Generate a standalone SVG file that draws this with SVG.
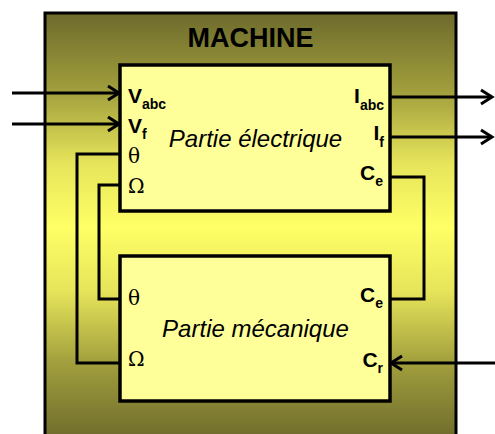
<svg xmlns="http://www.w3.org/2000/svg" width="495" height="434" viewBox="0 0 495 434">
<defs>
<linearGradient id="bg" x1="0" y1="0" x2="0" y2="1">
<stop offset="0" stop-color="#6d6a2c"/>
<stop offset="0.18" stop-color="#a09e3c"/>
<stop offset="0.35" stop-color="#e6e45a"/>
<stop offset="0.5" stop-color="#ffff66"/>
<stop offset="0.65" stop-color="#e6e45a"/>
<stop offset="0.82" stop-color="#a09e3c"/>
<stop offset="1" stop-color="#6d6a2c"/>
</linearGradient>
<marker id="ah" markerUnits="userSpaceOnUse" markerWidth="16" markerHeight="18" viewBox="0 0 16 18" refX="13" refY="9" orient="auto">
<path d="M2,2 L13,9 L2,16" fill="none" stroke="#000" stroke-width="3" stroke-linejoin="miter"/>
</marker>
<style>
.box{fill:#ffff99;stroke:#000;stroke-width:3.5}
.ln{fill:none;stroke:#000;stroke-width:3}
.b{font-family:"Liberation Sans",Arial,sans-serif;font-weight:bold;fill:#000}
.m{font-size:21px}
.s{font-size:14px}
.g{font-family:"DejaVu Serif","Liberation Serif",serif;font-size:20px;fill:#000}
.it{font-family:"Liberation Sans",Arial,sans-serif;font-style:italic;font-size:24px;fill:#000}
</style>
</defs>
<g id="machine">
<rect x="45" y="13" width="411" height="428" fill="url(#bg)" stroke="#000" stroke-width="3"/>
<text x="250.5" y="47" text-anchor="middle" class="b" font-size="27">MACHINE</text>
</g>
<g id="connectors">
<line class="ln" x1="12" y1="93" x2="119" y2="93" marker-end="url(#ah)"/>
<line class="ln" x1="12" y1="124" x2="119" y2="124" marker-end="url(#ah)"/>
<line class="ln" x1="390" y1="97" x2="492" y2="97" marker-end="url(#ah)"/>
<line class="ln" x1="390" y1="137" x2="492" y2="137" marker-end="url(#ah)"/>
<line class="ln" x1="495" y1="363" x2="391" y2="363" marker-end="url(#ah)"/>
<polyline class="ln" points="120,154 77,154 77,363 120,363"/>
<polyline class="ln" points="120,185 99,185 99,299 120,299"/>
<polyline class="ln" points="390,177 424,177 424,299 390,299"/>
</g>
<g id="partie-electrique">
<rect class="box" x="120" y="65" width="270" height="146"/>
<text x="255.5" y="147" text-anchor="middle" class="it">Partie électrique</text>
<text x="128" y="103" class="b m">V<tspan class="s" dy="6">abc</tspan></text>
<text x="128" y="133" class="b m">V<tspan class="s" dy="6">f</tspan></text>
<text x="128" y="163" class="g">θ</text>
<text x="128" y="193" class="g">Ω</text>
<text x="384" y="103" text-anchor="end" class="b m">I<tspan class="s" dy="7">abc</tspan></text>
<text x="384" y="140" text-anchor="end" class="b m">I<tspan class="s" dy="7">f</tspan></text>
<text x="383" y="180" text-anchor="end" class="b m">C<tspan class="s" dy="6">e</tspan></text>
</g>
<g id="partie-mecanique">
<rect class="box" x="120" y="256" width="270" height="145"/>
<text x="255.5" y="337" text-anchor="middle" class="it">Partie mécanique</text>
<text x="128" y="305" class="g">θ</text>
<text x="128" y="366" class="g">Ω</text>
<text x="383" y="302" text-anchor="end" class="b m">C<tspan class="s" dy="6">e</tspan></text>
<text x="383" y="367" text-anchor="end" class="b m">C<tspan class="s" dy="6">r</tspan></text>
</g>
</svg>
